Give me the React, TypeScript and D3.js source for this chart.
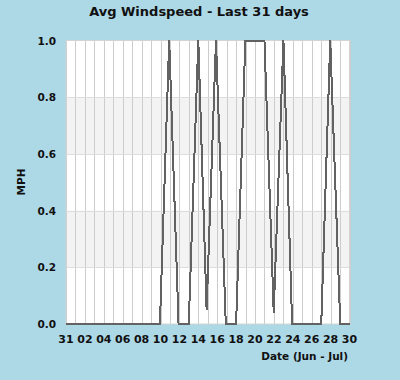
// @ts-nocheck
import React, { useEffect, useRef } from 'react';
import * as d3 from 'd3';

// days since 31 May, and the averaged wind speed at those points
const dayOffsets = [0, 9.94, 10.92, 11.91, 12.99, 14.0, 14.88, 15.87, 16.91, 18.0, 18.98, 21.0, 21.98, 23.01, 23.93, 27.01, 27.96, 29.02, 30];
const windMph = [0, 0, 1, 0, 0, 1, 0.05, 1, 0, 0, 1, 1, 0.04, 1, 0, 0, 1, 0, 0];

const dayLabels = ['31', '02', '04', '06', '08', '10', '12', '14', '16', '18', '20', '22', '24', '26', '28', '30'];
const yTicks = [0, 0.2, 0.4, 0.6, 0.8, 1.0];
const bands = [[0.2, 0.4], [0.6, 0.8]];

export default function App() {
    const ref = useRef(null);

    useEffect(() => {
        const W = 400;
        const H = 380;
        const left = 66;
        const right = 349.5;
        const top = 40.5;
        const bottom = 324;
        const font = '"DejaVu Sans", sans-serif';

        const svg = d3.select(ref.current);
        svg.selectAll('*').remove();

        svg.append('rect')
            .attr('width', W)
            .attr('height', H)
            .attr('fill', '#add8e6');

        const x = d3.scaleLinear().domain([0, 30]).range([left, right]);
        const y = d3.scaleLinear().domain([0, 1]).range([bottom, top]);

        // plot area
        svg.append('rect')
            .attr('x', x(0))
            .attr('y', y(1))
            .attr('width', x(30) - x(0))
            .attr('height', y(0) - y(1))
            .attr('fill', 'white');

        svg.selectAll('.band')
            .data(bands)
            .enter()
            .append('rect')
            .attr('x', x(0))
            .attr('width', x(30) - x(0))
            .attr('y', (d) => y(d[1]))
            .attr('height', (d) => y(d[0]) - y(d[1]))
            .attr('fill', '#f3f3f3');

        // vertical grid, one per day
        svg.append('g')
            .selectAll('line')
            .data(d3.range(0, 31))
            .enter()
            .append('line')
            .attr('x1', (d) => Math.round(x(d)) + 0.5)
            .attr('x2', (d) => Math.round(x(d)) + 0.5)
            .attr('y1', y(1))
            .attr('y2', y(0))
            .attr('stroke', '#cccccc')
            .attr('stroke-width', 1);

        svg.append('g')
            .selectAll('line')
            .data(yTicks.slice(1, -1))
            .enter()
            .append('line')
            .attr('x1', x(0))
            .attr('x2', x(30))
            .attr('y1', (d) => Math.round(y(d)) + 0.5)
            .attr('y2', (d) => Math.round(y(d)) + 0.5)
            .attr('stroke', '#dddddd')
            .attr('stroke-width', 1);

        svg.append('rect')
            .attr('x', x(0))
            .attr('y', y(1))
            .attr('width', x(30) - x(0))
            .attr('height', y(0) - y(1))
            .attr('fill', 'none')
            .attr('stroke', '#d4d4d4')
            .attr('stroke-width', 1);

        const line = d3.line()
            .x((d) => x(d[0]))
            .y((d) => y(d[1]));

        svg.append('path')
            .datum(dayOffsets.map((d, i) => [d, windMph[i]]))
            .attr('fill', 'none')
            .attr('stroke', '#626262')
            .attr('stroke-width', 2)
            .attr('shape-rendering', 'crispEdges')
            .attr('d', line);

        // y tick labels
        svg.append('g')
            .selectAll('text')
            .data(yTicks)
            .enter()
            .append('text')
            .attr('x', 56)
            .attr('y', (d) => y(d) + 4)
            .attr('text-anchor', 'end')
            .attr('font-family', font)
            .attr('font-weight', 'bold')
            .attr('font-size', 10.5)
            .attr('fill', '#111')
            .text((d) => d.toFixed(1));

        // x tick labels, every second day
        svg.append('g')
            .selectAll('text')
            .data(dayLabels)
            .enter()
            .append('text')
            .attr('x', (d, i) => x(i * 2))
            .attr('y', 343)
            .attr('text-anchor', 'middle')
            .attr('font-family', font)
            .attr('font-weight', 'bold')
            .attr('font-size', 11)
            .attr('fill', '#111')
            .text((d) => d);

        svg.append('text')
            .attr('x', 199)
            .attr('y', 16)
            .attr('text-anchor', 'middle')
            .attr('font-family', font)
            .attr('font-weight', 'bold')
            .attr('font-size', 13)
            .attr('fill', '#111')
            .text('Avg Windspeed - Last 31 days');

        svg.append('text')
            .attr('transform', 'translate(25, 182) rotate(-90)')
            .attr('text-anchor', 'middle')
            .attr('font-family', font)
            .attr('font-weight', 'bold')
            .attr('font-size', 10.5)
            .attr('fill', '#111')
            .text('MPH');

        svg.append('text')
            .attr('x', 348)
            .attr('y', 360)
            .attr('text-anchor', 'end')
            .attr('font-family', font)
            .attr('font-weight', 'bold')
            .attr('font-size', 10.5)
            .attr('fill', '#111')
            .text('Date (Jun - Jul)');
    }, []);

    return (
        <svg
            ref={ref}
            width={400}
            height={380}
            style={{ position: 'absolute', left: 0, top: 0, display: 'block' }}
        />
    );
}
